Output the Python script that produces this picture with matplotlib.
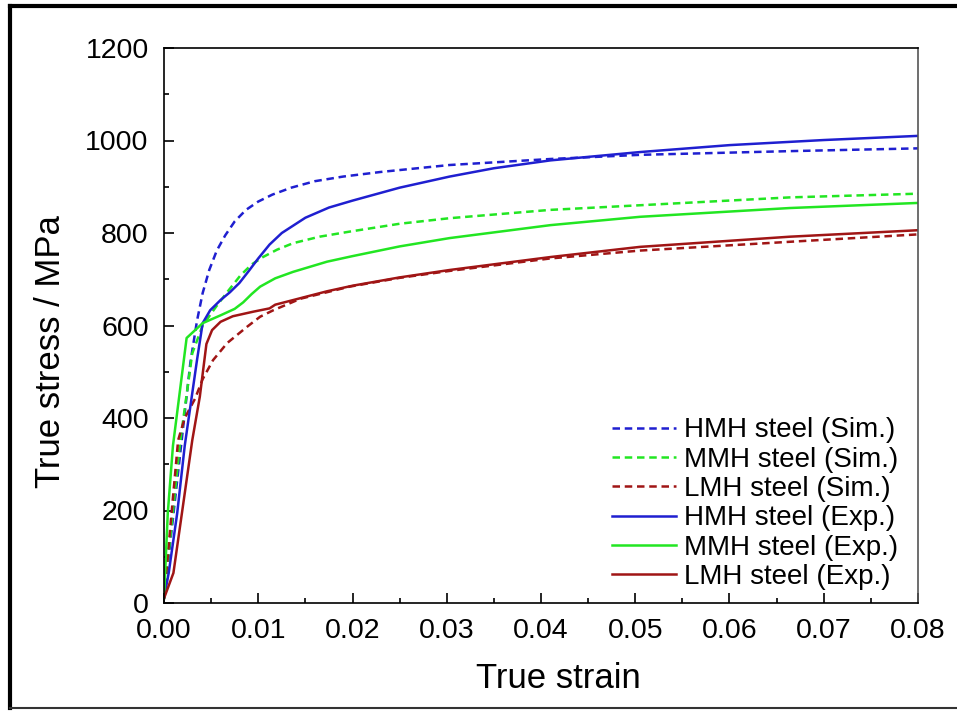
import matplotlib
matplotlib.use("Agg")
import matplotlib.pyplot as plt
from matplotlib.lines import Line2D

plt.rcParams['font.family'] = ['Liberation Sans', 'DejaVu Sans']

# ---- data ----
hmh_sim_x = [0, 0.0028, 0.0035, 0.0041, 0.0048, 0.0056, 0.0065, 0.0075, 0.0087, 0.0100, 0.0115, 0.0135, 0.0160, 0.0190, 0.0230, 0.0303, 0.0410, 0.0505, 0.0664, 0.0800]
hmh_sim_y = [10, 520, 610, 670, 720, 762, 795, 825, 850, 868, 883, 898, 912, 922, 932, 947, 960, 969, 977, 983]

mmh_sim_x = [0, 0.0017, 0.0030, 0.0041, 0.0055, 0.0067, 0.0081, 0.0093, 0.0105, 0.0120, 0.0137, 0.0165, 0.0197, 0.0250, 0.0303, 0.0410, 0.0505, 0.0664, 0.0800]
mmh_sim_y = [10, 346, 540, 600, 640, 672, 708, 732, 748, 764, 778, 792, 803, 820, 832, 850, 860, 877, 885]

lmh_sim_x = [0, 0.0008, 0.0015, 0.0022, 0.0033, 0.0041, 0.0052, 0.0067, 0.0088, 0.0102, 0.0116, 0.0145, 0.0197, 0.0250, 0.0303, 0.0410, 0.0505, 0.0664, 0.0800]
lmh_sim_y = [10, 194, 352, 400, 442, 484, 525, 562, 597, 619, 633, 658, 684, 703, 718, 745, 762, 781, 797]

hmh_exp_x = [0, 0.0005, 0.0014, 0.0022, 0.0035, 0.0041, 0.0049, 0.0060, 0.0070, 0.0080, 0.0090, 0.0100, 0.0112, 0.0125, 0.0150, 0.0175, 0.0200, 0.0250, 0.0303, 0.0350, 0.0410, 0.0505, 0.0600, 0.0700, 0.0800]
hmh_exp_y = [10, 65, 194, 340, 525, 605, 633, 655, 672, 692, 718, 745, 775, 800, 833, 855, 870, 898, 922, 940, 957, 975, 990, 1001, 1010]

mmh_exp_x = [0, 0.0004, 0.00095, 0.0024, 0.0041, 0.0060, 0.0075, 0.0084, 0.0093, 0.0102, 0.0118, 0.0137, 0.0173, 0.0200, 0.0250, 0.0303, 0.0410, 0.0505, 0.0664, 0.0800]
mmh_exp_y = [10, 194, 340, 573, 605, 622, 636, 650, 668, 684, 702, 716, 738, 750, 771, 789, 817, 835, 854, 865]

lmh_exp_x = [0, 0.0010, 0.0019, 0.0030, 0.0038, 0.0045, 0.0051, 0.0060, 0.0073, 0.0095, 0.0112, 0.0118, 0.0137, 0.0173, 0.0200, 0.0250, 0.0303, 0.0410, 0.0505, 0.0664, 0.0800]
lmh_exp_y = [10, 65, 194, 352, 446, 560, 590, 608, 620, 630, 637, 645, 655, 674, 686, 704, 720, 748, 770, 792, 806]

labels = ['HMH steel (Sim.)', 'MMH steel (Sim.)', 'LMH steel (Sim.)',
          'HMH steel (Exp.)', 'MMH steel (Exp.)', 'LMH steel (Exp.)']
x_ticks = [0.00, 0.01, 0.02, 0.03, 0.04, 0.05, 0.06, 0.07, 0.08]
y_ticks = [0, 200, 400, 600, 800, 1000, 1200]

c_blue = '#1f1fd0'
c_green = '#22e622'
c_red = '#a01515'

W, H = 957, 711
fig = plt.figure(figsize=(W / 100, H / 100), dpi=100)
ax = fig.add_axes([164 / W, 1 - 603 / H, (918 - 164) / W, (603 - 48) / H])

lw = 1.8
ds = (3.0, 1.9)
ax.plot(hmh_sim_x, hmh_sim_y, color=c_blue, lw=lw, ls=(0, ds), label=labels[0])
ax.plot(mmh_sim_x, mmh_sim_y, color=c_green, lw=lw, ls=(0, ds), label=labels[1])
ax.plot(lmh_sim_x, lmh_sim_y, color=c_red, lw=lw, ls=(0, ds), label=labels[2])
ax.plot(hmh_exp_x, hmh_exp_y, color=c_blue, lw=lw, label=labels[3])
ax.plot(mmh_exp_x, mmh_exp_y, color=c_green, lw=lw, label=labels[4])
ax.plot(lmh_exp_x, lmh_exp_y, color=c_red, lw=lw, label=labels[5])

ax.set_xlim(0, 0.08)
ax.set_ylim(0, 1200)
ax.set_xticks(x_ticks)
ax.set_xticklabels([f'{v:.2f}' for v in x_ticks])
ax.set_yticks(y_ticks)
ax.set_xticks([0.005 + 0.01 * i for i in range(8)], minor=True)
ax.set_yticks([100 + 200 * i for i in range(6)], minor=True)
ax.tick_params(which='both', direction='in', top=False, right=False, width=1.2)
ax.tick_params(which='major', length=7, labelsize=20.5)
ax.tick_params(which='minor', length=3.5)
ax.tick_params(axis='x', which='major', pad=11)
ax.tick_params(axis='y', which='major', pad=11)
for s in ax.spines.values():
    s.set_linewidth(1.2)
ax.spines['right'].set_color('#555555')

ax.set_xlabel('True strain', fontsize=25)
ax.set_ylabel('True stress / MPa', fontsize=25)
ax.xaxis.set_label_coords((558 - 164) / (918 - 164), -(678 - 603) / (603 - 48), transform=ax.transAxes)
ax.yaxis.set_label_coords(-(164 - 50) / (918 - 164), (603 - 352) / (603 - 48), transform=ax.transAxes)
ax.xaxis.label.set_va('center')
ax.yaxis.label.set_va('center')

leg = ax.legend(loc='lower left', bbox_to_anchor=((612 - 164) / (918 - 164), (603 - 590) / (603 - 48)),
                frameon=False, fontsize=20, handlelength=2.3, handletextpad=0.3,
                labelspacing=0.12, borderaxespad=0, borderpad=0)

# outer frame
fig.add_artist(Line2D([10 / W, 10 / W], [1 - 6 / H, 1 - 708 / H], color='black', lw=3.0, transform=fig.transFigure))
fig.add_artist(Line2D([10 / W, 1.0], [1 - 6 / H, 1 - 6 / H], color='black', lw=3.0, transform=fig.transFigure))
fig.add_artist(Line2D([10 / W, 1.0], [1 - 708 / H, 1 - 708 / H], color='#333333', lw=1.5, transform=fig.transFigure))

fig.savefig('out.png', dpi=100)
